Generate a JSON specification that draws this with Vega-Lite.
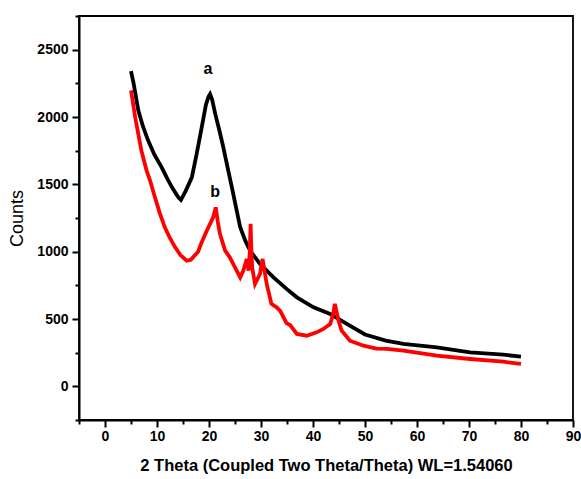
{
  "$schema": "https://vega.github.io/schema/vega-lite/v6.json",
  "width": 494,
  "height": 404,
  "autosize": {"type": "none"},
  "padding": {"left": 79, "top": 16, "right": 8, "bottom": 59},
  "background": "white",
  "view": {"stroke": "black", "strokeWidth": 1.8},
  "config": {"view": {"stroke": "black", "strokeWidth": 1.8}, "font": "Liberation Sans"},
  "datasets": {
    "xrd": [
      {"sample": "a", "theta": 5.0, "counts": 2340},
      {"sample": "a", "theta": 5.5, "counts": 2250},
      {"sample": "a", "theta": 6.4, "counts": 2050},
      {"sample": "a", "theta": 7.3, "counts": 1930},
      {"sample": "a", "theta": 8.3, "counts": 1825},
      {"sample": "a", "theta": 9.5, "counts": 1720},
      {"sample": "a", "theta": 10.9, "counts": 1626},
      {"sample": "a", "theta": 12.0, "counts": 1540},
      {"sample": "a", "theta": 13.0, "counts": 1470},
      {"sample": "a", "theta": 14.1, "counts": 1404},
      {"sample": "a", "theta": 14.6, "counts": 1385},
      {"sample": "a", "theta": 15.5, "counts": 1450},
      {"sample": "a", "theta": 16.7, "counts": 1552},
      {"sample": "a", "theta": 17.6, "counts": 1720},
      {"sample": "a", "theta": 18.6, "counts": 1923},
      {"sample": "a", "theta": 19.4, "counts": 2090},
      {"sample": "a", "theta": 19.9, "counts": 2150},
      {"sample": "a", "theta": 20.2, "counts": 2170},
      {"sample": "a", "theta": 20.6, "counts": 2130},
      {"sample": "a", "theta": 21.2, "counts": 2023},
      {"sample": "a", "theta": 22.0, "counts": 1900},
      {"sample": "a", "theta": 22.75, "counts": 1775},
      {"sample": "a", "theta": 23.6, "counts": 1620},
      {"sample": "a", "theta": 24.4, "counts": 1478},
      {"sample": "a", "theta": 25.6, "counts": 1255},
      {"sample": "a", "theta": 26.0, "counts": 1181},
      {"sample": "a", "theta": 27.0, "counts": 1080},
      {"sample": "a", "theta": 27.9, "counts": 1008},
      {"sample": "a", "theta": 29.8, "counts": 909},
      {"sample": "a", "theta": 32.4, "counts": 809},
      {"sample": "a", "theta": 35.3, "counts": 711},
      {"sample": "a", "theta": 36.9, "counts": 661},
      {"sample": "a", "theta": 40.1, "counts": 587},
      {"sample": "a", "theta": 43.3, "counts": 538},
      {"sample": "a", "theta": 46.5, "counts": 463},
      {"sample": "a", "theta": 50.0, "counts": 385},
      {"sample": "a", "theta": 54.0, "counts": 340},
      {"sample": "a", "theta": 57.4, "counts": 315},
      {"sample": "a", "theta": 63.8, "counts": 290},
      {"sample": "a", "theta": 70.2, "counts": 252},
      {"sample": "a", "theta": 76.6, "counts": 235},
      {"sample": "a", "theta": 80.0, "counts": 220},
      {"sample": "b", "theta": 5.0, "counts": 2198},
      {"sample": "b", "theta": 5.4, "counts": 2100},
      {"sample": "b", "theta": 5.8, "counts": 1998},
      {"sample": "b", "theta": 7.0, "counts": 1750},
      {"sample": "b", "theta": 8.0, "counts": 1602},
      {"sample": "b", "theta": 8.65, "counts": 1530},
      {"sample": "b", "theta": 9.6, "counts": 1404},
      {"sample": "b", "theta": 10.5, "counts": 1290},
      {"sample": "b", "theta": 11.5, "counts": 1181},
      {"sample": "b", "theta": 12.5, "counts": 1100},
      {"sample": "b", "theta": 13.5, "counts": 1032},
      {"sample": "b", "theta": 14.5, "counts": 975},
      {"sample": "b", "theta": 15.7, "counts": 933},
      {"sample": "b", "theta": 16.5, "counts": 940},
      {"sample": "b", "theta": 17.9, "counts": 1000},
      {"sample": "b", "theta": 18.5, "counts": 1060},
      {"sample": "b", "theta": 19.5, "counts": 1150},
      {"sample": "b", "theta": 20.5, "counts": 1230},
      {"sample": "b", "theta": 20.8, "counts": 1255},
      {"sample": "b", "theta": 21.3, "counts": 1329},
      {"sample": "b", "theta": 21.7, "counts": 1220},
      {"sample": "b", "theta": 22.1, "counts": 1132},
      {"sample": "b", "theta": 23.1, "counts": 1008},
      {"sample": "b", "theta": 24.0, "counts": 958},
      {"sample": "b", "theta": 25.0, "counts": 884},
      {"sample": "b", "theta": 26.0, "counts": 809},
      {"sample": "b", "theta": 26.6, "counts": 859},
      {"sample": "b", "theta": 27.25, "counts": 946},
      {"sample": "b", "theta": 27.6, "counts": 859},
      {"sample": "b", "theta": 27.85, "counts": 1000},
      {"sample": "b", "theta": 28.0, "counts": 1206},
      {"sample": "b", "theta": 28.15, "counts": 1000},
      {"sample": "b", "theta": 28.3, "counts": 884},
      {"sample": "b", "theta": 28.85, "counts": 760},
      {"sample": "b", "theta": 29.8, "counts": 834},
      {"sample": "b", "theta": 30.3, "counts": 946},
      {"sample": "b", "theta": 31.1, "counts": 760},
      {"sample": "b", "theta": 32.0, "counts": 612},
      {"sample": "b", "theta": 33.0, "counts": 587},
      {"sample": "b", "theta": 33.7, "counts": 560},
      {"sample": "b", "theta": 34.9, "counts": 470},
      {"sample": "b", "theta": 35.6, "counts": 455},
      {"sample": "b", "theta": 36.9, "counts": 389},
      {"sample": "b", "theta": 38.8, "counts": 376},
      {"sample": "b", "theta": 40.7, "counts": 401},
      {"sample": "b", "theta": 42.0, "counts": 426},
      {"sample": "b", "theta": 43.3, "counts": 463},
      {"sample": "b", "theta": 43.9, "counts": 538},
      {"sample": "b", "theta": 44.2, "counts": 612},
      {"sample": "b", "theta": 44.9, "counts": 488},
      {"sample": "b", "theta": 45.5, "counts": 414},
      {"sample": "b", "theta": 47.1, "counts": 339},
      {"sample": "b", "theta": 49.7, "counts": 302},
      {"sample": "b", "theta": 52.2, "counts": 280},
      {"sample": "b", "theta": 54.2, "counts": 278},
      {"sample": "b", "theta": 57.4, "counts": 265},
      {"sample": "b", "theta": 63.8, "counts": 228},
      {"sample": "b", "theta": 70.2, "counts": 203},
      {"sample": "b", "theta": 76.6, "counts": 183},
      {"sample": "b", "theta": 80.0, "counts": 166}
    ],
    "labels": [
      {"label": "a", "theta": 19.8, "counts": 2360},
      {"label": "b", "theta": 21.2, "counts": 1446}
    ],
    "minor": [
      {"mx": 5, "my": 250}
    ]
  },
  "resolve": {"axis": {"x": "independent", "y": "independent"}},
  "layer": [
    {
      "data": {"name": "xrd"},
      "mark": {"type": "line", "strokeWidth": 3.8},
      "encoding": {
        "x": {
          "field": "theta", "type": "quantitative",
          "scale": {"domain": [-5, 90], "nice": false, "zero": false},
          "axis": {
            "orient": "bottom",
            "values": [0, 10, 20, 30, 40, 50, 60, 70, 80, 90],
            "format": "d",
            "tickSize": 7, "tickWidth": 2, "tickColor": "black",
            "domainColor": "black", "domainWidth": 2,
            "labelFont": "Liberation Sans", "labelFontWeight": "bold", "labelFontSize": 14,
            "labelColor": "black", "labelPadding": 2, "labelFlush": false, "labelOverlap": false,
            "grid": false,
            "title": "2 Theta (Coupled Two Theta/Theta) WL=1.54060",
            "titleFont": "Liberation Sans", "titleFontSize": 16.5, "titleFontWeight": "bold",
            "titleColor": "black", "titlePadding": 14
          }
        },
        "y": {
          "field": "counts", "type": "quantitative",
          "scale": {"domain": [-250, 2750], "nice": false, "zero": false},
          "axis": {
            "orient": "left",
            "values": [0, 500, 1000, 1500, 2000, 2500],
            "format": "d",
            "tickSize": 7, "tickWidth": 2, "tickColor": "black",
            "domainColor": "black", "domainWidth": 2,
            "labelFont": "Liberation Sans", "labelFontWeight": "bold", "labelFontSize": 14,
            "labelColor": "black", "labelPadding": 4, "labelFlush": false, "labelOverlap": false,
            "grid": false,
            "title": "Counts",
            "titleFont": "Liberation Sans", "titleFontSize": 18, "titleFontWeight": "normal",
            "titleColor": "black", "titlePadding": 10
          }
        },
        "color": {
          "field": "sample", "type": "nominal",
          "scale": {"domain": ["a", "b"], "range": ["black", "red"]},
          "legend": null
        }
      }
    },
    {
      "data": {"name": "minor"},
      "mark": {"type": "point", "opacity": 0},
      "encoding": {
        "x": {
          "field": "mx", "type": "quantitative",
          "axis": {
            "orient": "bottom",
            "values": [-5, 5, 15, 25, 35, 45, 55, 65, 75, 85],
            "labels": false, "domain": false, "grid": false, "title": null,
            "tickSize": 4, "tickWidth": 2, "tickColor": "black"
          }
        },
        "y": {
          "field": "my", "type": "quantitative",
          "axis": {
            "orient": "left",
            "values": [-250, 250, 750, 1250, 1750, 2250, 2750],
            "labels": false, "domain": false, "grid": false, "title": null,
            "tickSize": 4, "tickWidth": 2, "tickColor": "black"
          }
        }
      }
    },
    {
      "data": {"name": "labels"},
      "mark": {"type": "text", "font": "Liberation Sans", "fontWeight": "bold", "fontSize": 16, "color": "black"},
      "encoding": {
        "x": {"field": "theta", "type": "quantitative", "axis": null},
        "y": {"field": "counts", "type": "quantitative", "axis": null},
        "text": {"field": "label"}
      }
    }
  ]
}
